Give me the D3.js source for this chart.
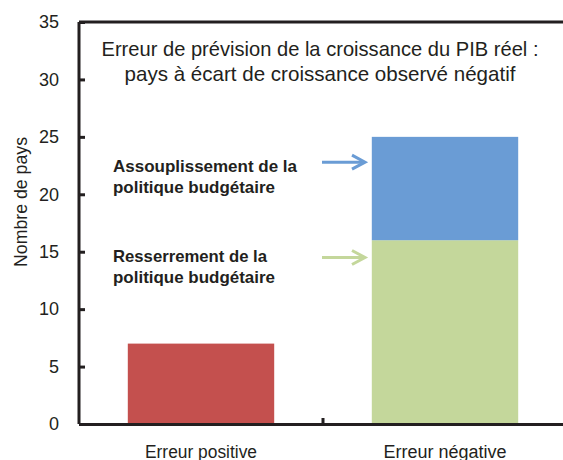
<!DOCTYPE html>
<html>
<head>
<meta charset="utf-8">
<script src="https://cdn.jsdelivr.net/npm/d3@7"></script>
<style>
  body { margin: 0; background: #fff; }
  text { font-family: "Liberation Sans", Arial, sans-serif; fill: #231f20; }
</style>
</head>
<body>
<div id="chart"></div>
<script>
// Data
const categories = ["Erreur positive", "Erreur négative"];
const tightening = [7, 16];   // bottom segment
const easing = [0, 9];        // top segment
const yTicks = [0, 5, 10, 15, 20, 25, 30, 35];
const titleLines = ["Erreur de prévision de la croissance du PIB réel :",
                    "pays à écart de croissance observé négatif"];

const width = 563;
const height = 460;
const margin = {top: 22, right: -4, bottom: 36, left: 79};
const innerWidth = width - margin.left - margin.right;
const innerHeight = height - margin.top - margin.bottom;
const ink = "#231f20";

const svg = d3.select("#chart")
  .append("svg")
    .attr("width", width)
    .attr("height", height);

const innerChart = svg.append("g")
    .attr("transform", `translate(${margin.left}, ${margin.top})`);

const xScale = d3.scaleBand()
    .domain(categories)
    .range([0, innerWidth])
    .paddingInner(0.4)
    .paddingOuter(0.2);

const yScale = d3.scaleLinear()
    .domain([0, 35])
    .range([innerHeight, 0]);

// Bars
const bottomColours = ["#c4504e", "#c4d79b"];
innerChart.selectAll(".bar-bottom")
  .data(categories)
  .join("rect")
    .attr("class", "bar-bottom")
    .attr("x", d => xScale(d))
    .attr("y", (d, i) => yScale(tightening[i]))
    .attr("width", xScale.bandwidth())
    .attr("height", (d, i) => innerHeight - yScale(tightening[i]))
    .attr("fill", (d, i) => bottomColours[i]);

const stacked = categories.map((c, i) => ({c, lo: tightening[i], hi: tightening[i] + easing[i]}))
    .filter(d => d.hi > d.lo);

innerChart.selectAll(".bar-top")
  .data(stacked)
  .join("rect")
    .attr("class", "bar-top")
    .attr("x", d => xScale(d.c))
    .attr("y", d => yScale(d.hi))
    .attr("width", xScale.bandwidth())
    .attr("height", d => yScale(d.lo) - yScale(d.hi))
    .attr("fill", "#6a9cd5");

// Axes
const yAxis = d3.axisLeft(yScale)
    .tickValues(yTicks)
    .tickSize(-6)
    .tickPadding(20);

const yAxisG = innerChart.append("g").call(yAxis);
yAxisG.select(".domain").attr("stroke", ink).attr("stroke-width", 3)
    .attr("d", `M0,${innerHeight}V0`);
yAxisG.selectAll(".tick line").attr("stroke", ink).attr("stroke-width", 3);
yAxisG.selectAll(".tick text")
    .attr("font-size", 18)
    .attr("font-family", "Liberation Sans, sans-serif")
    .attr("fill", ink);

// top border
innerChart.append("line")
    .attr("x1", 0).attr("x2", innerWidth)
    .attr("y1", 0).attr("y2", 0)
    .attr("stroke", ink).attr("stroke-width", 3);

const labelLengths = [112, 123];
const xAxis = d3.axisBottom(xScale).tickSize(0).tickPadding(21);
const xAxisG = innerChart.append("g")
    .attr("transform", `translate(0, ${innerHeight})`)
    .call(xAxis);
xAxisG.select(".domain").attr("stroke", ink).attr("stroke-width", 3);
xAxisG.selectAll(".tick text")
    .attr("font-size", 18)
    .attr("font-family", "Liberation Sans, sans-serif")
    .attr("fill", ink)
    .attr("textLength", (d, i) => labelLengths[i])
    .attr("lengthAdjust", "spacingAndGlyphs");

// middle tick between categories
const midX = xScale(categories[1]) - xScale.step() * xScale.paddingInner() / 2;
xAxisG.append("line")
    .attr("x1", midX).attr("x2", midX)
    .attr("y1", 0).attr("y2", -6)
    .attr("stroke", ink).attr("stroke-width", 3);

// Title
const titleLengths = [437, 391];
svg.append("g").selectAll("text")
  .data(titleLines)
  .join("text")
    .attr("x", 320)
    .attr("y", (d, i) => 56 + i * 25)
    .attr("text-anchor", "middle")
    .attr("font-size", 21)
    .attr("textLength", (d, i) => titleLengths[i])
    .attr("lengthAdjust", "spacingAndGlyphs")
    .text(d => d);

// Y axis label
svg.append("text")
    .text("Nombre de pays")
    .attr("transform", `translate(27, 202) rotate(-90)`)
    .attr("text-anchor", "middle")
    .attr("font-size", 18)
    .attr("textLength", 130)
    .attr("lengthAdjust", "spacingAndGlyphs");

// Annotations
const notes = [
  {lines: ["Assouplissement de la", "politique budgétaire"], lens: [184, 162], arrowAt: 22.8, textAt: 21.9, colour: "#6a9cd5"},
  {lines: ["Resserrement de la", "politique budgétaire"], lens: [154, 162], arrowAt: 14.5, textAt: 14.1, colour: "#c4d79b"}
];

notes.forEach(n => {
  const ty = margin.top + yScale(n.textAt);
  svg.append("g").selectAll("text")
    .data(n.lines)
    .join("text")
      .attr("x", 113)
      .attr("y", (d, j) => ty + j * 21)
      .attr("font-size", 17)
      .attr("font-weight", "bold")
      .attr("textLength", (d, j) => n.lens[j])
      .attr("lengthAdjust", "spacingAndGlyphs")
      .text(d => d);

  const ay = margin.top + yScale(n.arrowAt);
  svg.append("line")
      .attr("x1", 322).attr("x2", 364)
      .attr("y1", ay).attr("y2", ay)
      .attr("stroke", n.colour)
      .attr("stroke-width", 3);
  svg.append("path")
      .attr("d", `M352,${ay - 7}L365,${ay}L352,${ay + 7}`)
      .attr("fill", "none")
      .attr("stroke", n.colour)
      .attr("stroke-width", 3);
});
</script>
</body>
</html>
